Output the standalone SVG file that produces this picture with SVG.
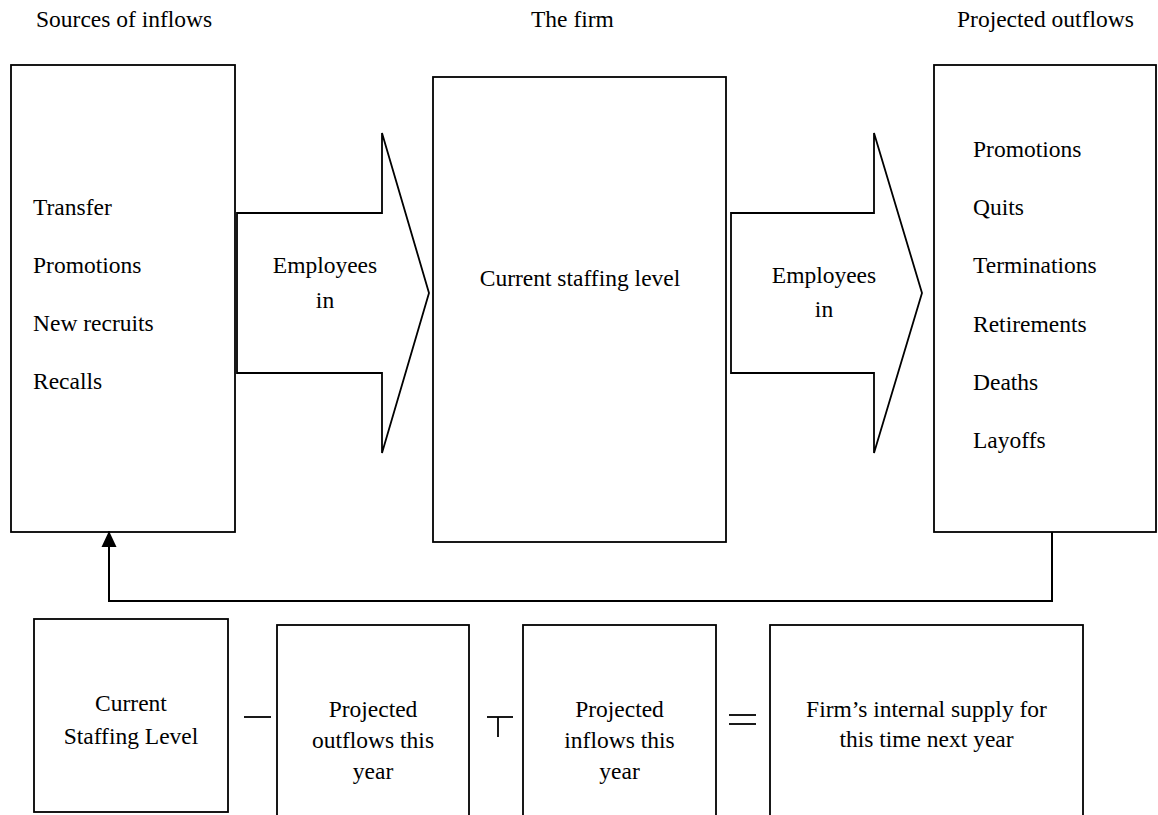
<svg xmlns="http://www.w3.org/2000/svg" width="1158" height="815" viewBox="0 0 1158 815">
<style>
.box{fill:#fff;stroke:#000;stroke-width:1.8}
.arr{fill:#fff;stroke:#000;stroke-width:1.8;stroke-linejoin:miter}
.t{font-family:Liberation Serif, DejaVu Serif, serif;font-size:23.5px;fill:#000}
.c{text-anchor:middle}
.op{stroke:#000;stroke-width:1.8;fill:none}
.conn{fill:none;stroke:#000;stroke-width:2}
</style>
<defs>
<marker id="ah" markerWidth="16" markerHeight="16" refX="16" refY="8" orient="auto" markerUnits="userSpaceOnUse" viewBox="0 0 16 16">
<path d="M16,8 L0,0.5 L0,15.5 Z" fill="#000"/>
</marker>
</defs>
<rect width="1158" height="815" fill="#fff"/>
<g class="t">
<text x="36" y="27">Sources of inflows</text>
<text x="531" y="27">The firm</text>
<text x="957" y="27">Projected outflows</text>

<g id="sources">
<rect class="box" x="11" y="65" width="224" height="467"/>
<text x="33" y="215">Transfer</text>
<text x="33" y="273">Promotions</text>
<text x="33" y="331">New recruits</text>
<text x="33" y="389">Recalls</text>
</g>

<g id="firm">
<rect class="box" x="433" y="77" width="293" height="465"/>
<text class="c" x="580" y="286">Current staffing level</text>
</g>

<g id="outflows">
<rect class="box" x="934" y="65" width="222" height="467"/>
<text x="973" y="157">Promotions</text>
<text x="973" y="215">Quits</text>
<text x="973" y="273">Terminations</text>
<text x="973" y="332">Retirements</text>
<text x="973" y="390">Deaths</text>
<text x="973" y="448">Layoffs</text>
</g>

<g id="arrow-in">
<polygon class="arr" points="237,213 382,213 382,133 429,293 382,453 382,373 237,373"/>
<text class="c" x="325" y="273">Employees</text>
<text class="c" x="325" y="308">in</text>
</g>

<g id="arrow-out">
<polygon class="arr" points="731,213 874,213 874,133 922,293 874,453 874,373 731,373"/>
<text class="c" x="824" y="283">Employees</text>
<text class="c" x="824" y="317">in</text>
</g>

<g id="connectors">
<polyline class="conn" points="1052,532 1052,601 109,601 109,531" marker-end="url(#ah)"/>
</g>

<g id="current-level">
<rect class="box" x="34" y="619" width="194" height="193"/>
<text class="c" x="131" y="711">Current</text>
<text class="c" x="131" y="744">Staffing Level</text>
</g>

<g id="minus">
<line class="op" x1="244" y1="717" x2="271" y2="717"/>
</g>

<g id="proj-outflows">
<rect class="box" x="277" y="625" width="192" height="200"/>
<text class="c" x="373" y="717">Projected</text>
<text class="c" x="373" y="748">outflows this</text>
<text class="c" x="373" y="779">year</text>
</g>

<g id="plus">
<line class="op" x1="487" y1="717" x2="513" y2="717"/>
<line class="op" x1="498" y1="717" x2="498" y2="737"/>
</g>

<g id="proj-inflows">
<rect class="box" x="523" y="625" width="193" height="200"/>
<text class="c" x="619.5" y="717">Projected</text>
<text class="c" x="619.5" y="748">inflows this</text>
<text class="c" x="619.5" y="779">year</text>
</g>

<g id="equals">
<line class="op" x1="729" y1="715" x2="756" y2="715"/>
<line class="op" x1="729" y1="724" x2="756" y2="724"/>
</g>

<g id="internal-supply">
<rect class="box" x="770" y="625" width="313" height="200"/>
<text class="c" x="926.5" y="717">Firm’s internal supply for</text>
<text class="c" x="926.5" y="747">this time next year</text>
</g>
</g>
</svg>
